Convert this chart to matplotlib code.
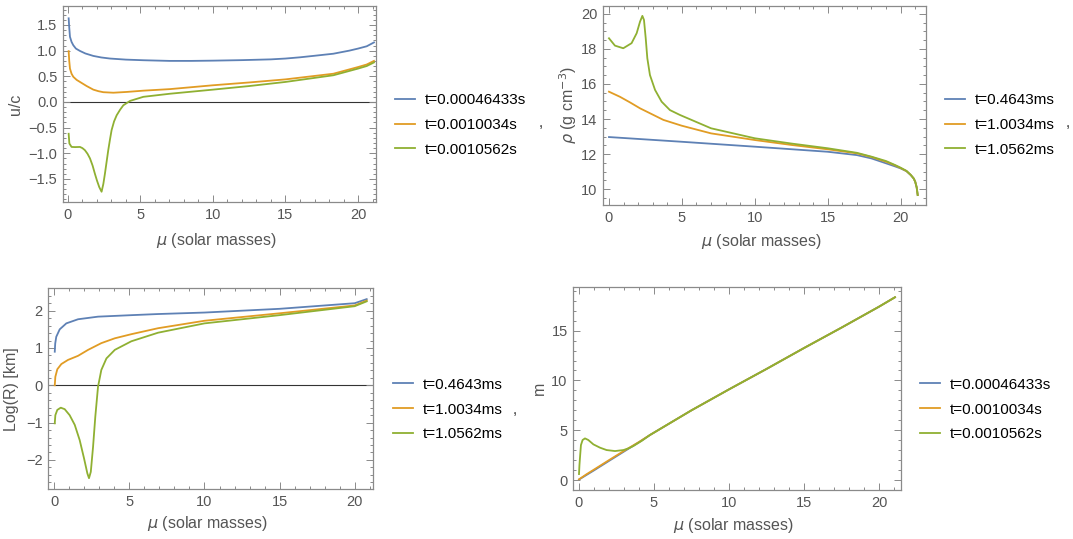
import matplotlib
matplotlib.use("Agg")
import matplotlib.pyplot as plt
from matplotlib.ticker import MultipleLocator

plt.rcParams['font.family'] = ['Liberation Sans', 'DejaVu Sans']
plt.rcParams['mathtext.fontset'] = 'dejavusans'

# ---------------- data ----------------
# Panel 1: u/c
p1_mu_blue = [0.05, 0.09, 0.14, 0.25, 0.37, 0.55, 0.83, 1.2, 1.75, 2.3, 2.9, 4, 5.2, 7, 8.5, 10, 12, 14, 15, 16, 17, 18.3, 19.4, 20, 20.6, 21.1]
p1_u_blue = [1.63, 1.45, 1.27, 1.17, 1.105, 1.04, 0.994, 0.945, 0.897, 0.867, 0.846, 0.825, 0.813, 0.80, 0.80, 0.805, 0.815, 0.83, 0.846, 0.87, 0.90, 0.94, 1.00, 1.04, 1.085, 1.16]
p1_mu_orange = [0.05, 0.09, 0.14, 0.25, 0.37, 0.6, 0.83, 1.29, 1.75, 2.1, 2.44, 3.13, 4.05, 5.2, 7.03, 10, 12.5, 15, 18.3, 20, 20.6, 21.1]
p1_u_orange = [0.99, 0.80, 0.65, 0.55, 0.49, 0.43, 0.39, 0.31, 0.24, 0.21, 0.19, 0.18, 0.195, 0.22, 0.25, 0.325, 0.38, 0.44, 0.55, 0.68, 0.73, 0.80]
p1_mu_green = [0.05, 0.1, 0.25, 0.5, 0.83, 1.0, 1.17, 1.35, 1.52, 1.7, 1.86, 2.0, 2.16, 2.32, 2.44, 2.55, 2.67, 2.78, 2.9, 3.01, 3.18, 3.36, 3.6, 3.82, 4.28, 5.2, 7.03, 10, 12.5, 15, 18.3, 20, 20.6, 21.1]
p1_u_green = [-0.62, -0.81, -0.877, -0.88, -0.877, -0.90, -0.94, -1.01, -1.10, -1.24, -1.40, -1.53, -1.66, -1.75, -1.60, -1.40, -1.16, -0.94, -0.73, -0.55, -0.38, -0.26, -0.15, -0.065, 0.02, 0.10, 0.16, 0.24, 0.31, 0.39, 0.52, 0.65, 0.70, 0.77]

# Panel 2: rho
p2_mu_blue = [0, 5, 10, 15, 17, 18, 19, 19.6, 20, 20.4, 20.7, 20.9, 21.0, 21.1, 21.17]
p2_rho_blue = [12.97, 12.70, 12.42, 12.13, 11.94, 11.75, 11.47, 11.30, 11.18, 11.02, 10.80, 10.60, 10.42, 10.10, 9.66]
p2_mu_orange = [0, 0.75, 1.44, 2.13, 2.81, 3.73, 4.98, 7.0, 10, 12.5, 15, 17, 18, 19, 19.6, 20, 20.4, 20.7, 20.9, 21.0, 21.1, 21.17]
p2_rho_orange = [15.56, 15.27, 14.95, 14.61, 14.33, 13.95, 13.62, 13.18, 12.80, 12.52, 12.27, 12.04, 11.83, 11.56, 11.36, 11.20, 11.03, 10.80, 10.60, 10.42, 10.10, 9.66]
p2_mu_green = [0, 0.41, 0.98, 1.55, 1.9, 2.13, 2.29, 2.4, 2.52, 2.63, 2.81, 3.16, 3.61, 4.18, 4.87, 7.0, 10, 12.5, 15, 17, 18, 19, 19.6, 20, 20.4, 20.7, 20.9, 21.0, 21.1, 21.17]
p2_rho_green = [18.61, 18.19, 18.04, 18.33, 18.90, 19.56, 19.89, 19.66, 18.61, 17.47, 16.51, 15.66, 14.99, 14.51, 14.23, 13.47, 12.90, 12.60, 12.33, 12.07, 11.85, 11.60, 11.38, 11.22, 11.04, 10.80, 10.60, 10.42, 10.10, 9.66]

# Panel 3: Log(R)
p3_mu_blue = [0.03, 0.06, 0.13, 0.36, 0.8, 1.58, 2.91, 5.13, 6.9, 10, 15, 20, 20.8]
p3_logr_blue = [0.90, 1.12, 1.30, 1.50, 1.66, 1.77, 1.84, 1.88, 1.91, 1.95, 2.05, 2.20, 2.31]
p3_mu_orange = [0.03, 0.07, 0.2, 0.47, 0.91, 1.58, 2.25, 3.13, 4.03, 5.13, 6.91, 10, 15, 20, 20.8]
p3_logr_orange = [0.0, 0.23, 0.43, 0.57, 0.68, 0.79, 0.95, 1.13, 1.26, 1.37, 1.53, 1.73, 1.93, 2.14, 2.27]
p3_mu_green = [0.03, 0.07, 0.2, 0.43, 0.69, 1.02, 1.36, 1.69, 1.98, 2.2, 2.31, 2.43, 2.58, 2.73, 2.91, 3.13, 3.47, 4.03, 5.13, 6.91, 10, 15, 20, 20.8]
p3_logr_green = [-1.02, -0.80, -0.66, -0.60, -0.64, -0.80, -1.06, -1.47, -1.96, -2.36, -2.49, -2.32, -1.65, -0.84, -0.04, 0.41, 0.72, 0.95, 1.18, 1.41, 1.66, 1.88, 2.12, 2.25]

# Panel 4: m
p4_mu_blue = [0, 1, 2, 3, 4, 4.73, 7.5, 10, 12.5, 15, 17.5, 20, 21.07]
p4_m_blue = [0.05, 0.97, 1.92, 2.86, 3.80, 4.52, 7.0, 9.1, 11.15, 13.25, 15.3, 17.4, 18.35]
p4_mu_orange = [0, 0.5, 1, 2, 3, 4, 4.73, 7.5, 10, 12.5, 15, 17.5, 20, 21.07]
p4_m_orange = [0.07, 0.58, 1.05, 2.0, 2.93, 3.82, 4.52, 7.0, 9.1, 11.15, 13.25, 15.3, 17.4, 18.35]
p4_mu_green = [0.0, 0.03, 0.07, 0.13, 0.24, 0.4, 0.62, 0.96, 1.4, 1.84, 2.4, 2.96, 3.3, 3.62, 4.2, 4.73, 7.5, 10, 12.5, 15, 17.5, 20, 21.07]
p4_m_green = [0.6, 1.5, 2.34, 3.51, 4.02, 4.18, 4.02, 3.58, 3.25, 3.01, 2.91, 3.01, 3.18, 3.41, 3.95, 4.52, 7.0, 9.1, 11.15, 13.25, 15.3, 17.4, 18.35]

labels_s = ["t=0.00046433s", "t=0.0010034s", "t=0.0010562s"]
labels_ms = ["t=0.4643ms", "t=1.0034ms", "t=1.0562ms"]

colors = ['#5E81B5', '#E19C24', '#8FB032']
W, H = 1073, 539

fig = plt.figure(figsize=(W / 100, H / 100), dpi=100)

def px_axes(l, t, r, b):
    return fig.add_axes([l / W, 1 - b / H, (r - l) / W, (b - t) / H])

frame_col = '#8a8a8a'
text_col = '#555555'

def style(ax, xlim, ylim, xmaj, xmin, ymaj, ymin):
    ax.set_xlim(*xlim)
    ax.set_ylim(*ylim)
    ax.xaxis.set_major_locator(MultipleLocator(xmaj))
    ax.xaxis.set_minor_locator(MultipleLocator(xmin))
    ax.yaxis.set_major_locator(MultipleLocator(ymaj))
    ax.yaxis.set_minor_locator(MultipleLocator(ymin))
    for s in ax.spines.values():
        s.set_color(frame_col)
        s.set_linewidth(0.9)
    ax.tick_params(which='both', direction='in', top=True, right=True, color=frame_col,
                   labelcolor=text_col, labelsize=10.5, width=0.7)
    ax.tick_params(which='major', length=5, pad=4)
    ax.tick_params(which='minor', length=2.5)

def labels(ax, xl, yl, xly, ylx):
    ax.set_xlabel(xl, fontsize=11.5, color=text_col)
    ax.set_ylabel(yl, fontsize=11.5, color=text_col)
    ax.xaxis.label.set_va('center')
    ax.yaxis.label.set_va('center')
    ax.xaxis.set_label_coords(0.49, xly)
    ax.yaxis.set_label_coords(ylx, 0.5)

def legend(ax, handles, labs, x, yc):
    ax.legend(handles, labs, loc='center left', bbox_to_anchor=(x / W, 1 - yc / H),
              bbox_transform=fig.transFigure, frameon=False, borderpad=0, borderaxespad=0,
              handlelength=1.3, handletextpad=0.65, labelspacing=0.7, fontsize=11)

lw = 1.3
xl = r"$\mu$ (solar masses)"

def draw(ax, series):
    h = []
    for (xs, ys), c in zip(series, colors):
        h += ax.plot(xs, ys, color=c, lw=lw, solid_joinstyle='round')
    return h

# Panel 1
ax1 = px_axes(63, 6, 376, 202)
h = draw(ax1, [(p1_mu_blue, p1_u_blue), (p1_mu_orange, p1_u_orange), (p1_mu_green, p1_u_green)])
ax1.axhline(0, color='#333333', lw=0.8, zorder=0)
style(ax1, (-0.34, 21.24), (-1.95, 1.87), 5, 1, 0.5, 0.1)
labels(ax1, xl, "u/c", -0.194, -0.153)
legend(ax1, h, labels_s, 395, 125)

# Panel 2
ax2 = px_axes(602.7, 5.7, 926, 205)
h = draw(ax2, [(p2_mu_blue, p2_rho_blue), (p2_mu_orange, p2_rho_orange), (p2_mu_green, p2_rho_green)])
style(ax2, (-0.43, 21.74), (9.09, 20.47), 5, 1, 2, 0.5)
labels(ax2, xl, r"$\rho$ (g cm$^{-3}$)", -0.184, -0.107)
legend(ax2, h, labels_ms, 945, 125)

# Panel 3
ax3 = px_axes(48.3, 288.3, 372.7, 489)
h = draw(ax3, [(p3_mu_blue, p3_logr_blue), (p3_mu_orange, p3_logr_orange), (p3_mu_green, p3_logr_green)])
ax3.axhline(0, color='#333333', lw=0.8, zorder=0)
style(ax3, (-0.4, 21.2), (-2.78, 2.6), 5, 1, 1, 0.2)
labels(ax3, xl, "Log(R) [km]", -0.17, -0.112)
legend(ax3, h, labels_ms, 393, 409.5)

# Panel 4
ax4 = px_axes(573.3, 287.3, 900.7, 490)
h = draw(ax4, [(p4_mu_blue, p4_m_blue), (p4_mu_orange, p4_m_orange), (p4_mu_green, p4_m_green)])
style(ax4, (-0.38, 21.45), (-1.0, 19.35), 5, 1, 5, 1)
labels(ax4, xl, "m", -0.173, -0.102)
legend(ax4, h, labels_s, 920, 409.5)

# separating commas
for cx, cy in [(541, 123), (1068, 123), (515, 410)]:
    fig.text(cx / W, 1 - cy / H, ",", fontsize=11, color='#333333', ha='center', va='center')

fig.savefig("out.png", dpi=100)
